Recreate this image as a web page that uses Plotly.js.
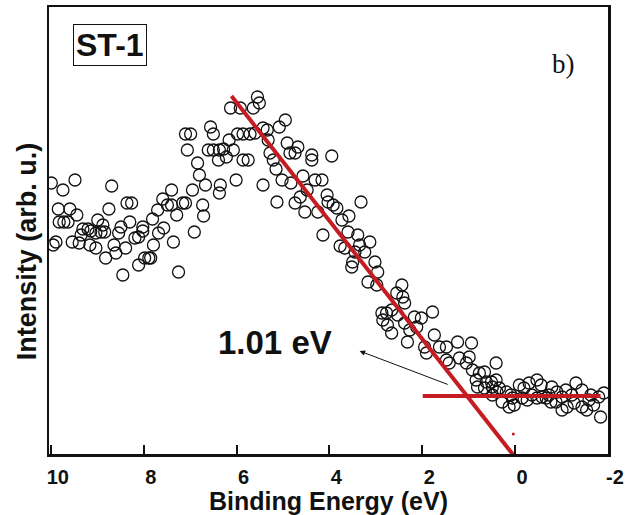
<!DOCTYPE html>
<html>
<head>
<meta charset="utf-8">
<script src="https://cdn.plot.ly/plotly-3.0.1.min.js"></script>
<style>html,body{margin:0;padding:0;background:#fff;}#chart{width:644px;height:515px;}</style>
</head>
<body>
<div id="chart"></div>
<script>
// Binding energy (eV) of each measured point
const energy = [
9.99,9.95,9.89,9.84,9.82,9.74,9.72,9.63,9.59,9.54,9.48,9.44,9.39,9.35,9.31,9.20,9.16,9.14,9.03,9.03,
8.99,8.92,8.88,8.84,8.82,8.75,8.69,8.64,8.60,8.54,8.49,8.45,8.39,8.36,8.30,8.26,8.19,8.11,8.11,8.02,
8.02,7.98,7.89,7.85,7.81,7.79,7.70,7.68,7.59,7.57,7.49,7.40,7.40,7.36,7.29,7.25,7.16,7.10,6.95,
7.10,6.99,7.06,6.84,6.80,6.91,6.73,6.71,6.67,6.61,6.56,6.50,6.50,6.39,6.37,6.37,6.35,6.28,6.22,6.16,
6.07,6.01,5.98,5.86,5.86,5.75,6.13,5.92,5.71,5.64,5.60,5.55,5.51,
5.43,5.34,5.32,5.43,5.28,5.21,5.15,5.08,4.95,5.02,4.91,4.85,4.83,4.74,4.68,5.13,4.63,4.74,4.53,4.57,
4.48,4.38,4.38,3.95,4.31,4.16,4.25,4.05,4.03,3.92,3.84,4.14,
3.73,3.58,3.32,3.60,3.39,3.13,3.35,3.77,3.67,3.45,3.24,3.50,3.52,3.02,2.96,3.17,2.98,2.44,2.55,2.42,
2.38,2.87,2.77,2.66,2.85,2.75,2.66,2.38,2.27,2.17,2.12,2.32,2.53,
2.02,1.78,1.74,1.95,1.91,1.63,1.48,1.48,1.42,1.24,1.20,
0.94,0.99,1.05,0.41,0.92,0.77,0.66,0.84,0.62,0.51,0.41,0.81,0.66,0.49,0.34,0.39,0.49,
0.28,0.19,0.13,0.09,0.06,-0.09,-0.15,-0.19,-0.26,-0.30,-0.47,-0.47,-0.56,-0.58,-0.67,-0.73,-0.77,-0.79,
-0.88,-0.90,-1.01,-1.01,-1.09,-1.12,-1.27,-1.31,-1.44,-1.44,-1.54,-1.63,-1.69,-1.80,-1.84,-1.91,
-1.22,-0.36,0.02,-1.59
];
// Intensity (arb. u.) of each measured point
const intensity = [
272,210,213,246,233,265,233,233,246,213,275,240,212,220,226,226,210,224,222,207,
235,223,230,223,197,246,269,210,202,222,228,180,207,252,233,252,217,218,190,224,
228,197,197,197,236,210,245,222,256,227,250,250,265,213,240,183,252,252,265,
321,321,305,292,280,223,250,239,270,305,328,321,305,295,305,262,270,306,298,315,
305,275,321,321,295,295,347,347,321,347,322,358,352,
327,325,315,270,302,295,286,328,335,275,312,302,272,302,308,253,258,252,243,279,
265,300,295,299,275,275,243,260,253,250,247,220,
235,239,253,223,220,213,210,209,207,203,203,193,188,193,183,173,170,170,162,158,
152,142,142,145,135,130,122,132,125,138,128,113,140,
137,143,120,108,102,108,108,95,92,113,97,
112,98,92,92,85,82,83,75,73,73,75,68,67,68,67,63,60,
53,63,48,60,57,70,57,67,55,72,75,57,70,58,57,60,53,68,
53,63,58,45,65,48,52,72,65,48,45,60,50,58,38,62,
60,60,50,55
];
// Linear fit of the leading edge and the background baseline
const edgeFitE = [6.11, 0.04];
const edgeFitI = [359, 0];
const baseFitE = [1.99, -1.84];
const baseFitI = [59, 59];
const markDotE = [0.04];
const markDotI = [21];
// Onset marked on the chart
const onsetLabel = '1.01 eV';
const arrowHeadE = 3.35, arrowHeadI = 104, arrowTailE = 1.42, arrowTailI = 70;
const labelE = 5.17, labelI = 113;
// Axis ticks
const tickVals = [10, 8, 6, 4, 2, 0, -2];
const tickText = ['10', '8', '6', '4', '2', '0', '-2'];
const xTitle = 'Binding Energy (eV)';
const yTitle = 'Intensity (arb. u.)';

const red = 'rgb(196,28,34)';
const traces = [
  {x: energy, y: intensity, type: 'scatter', mode: 'markers',
   marker: {symbol: 'circle-open', size: 12, color: '#111', line: {width: 1.3, color: '#111'}},
   hoverinfo: 'x+y'},
  {x: edgeFitE, y: edgeFitI, type: 'scatter', mode: 'lines', line: {color: red, width: 4}},
  {x: baseFitE, y: baseFitI, type: 'scatter', mode: 'lines', line: {color: red, width: 4}},
  {x: markDotE, y: markDotI, type: 'scatter', mode: 'markers', marker: {color: red, size: 3}}
];

const sans = 'Liberation Sans, Arial, sans-serif';
const axisFont = {family: sans, color: '#111', weight: 'bold'};
const layout = {
  width: 644, height: 515,
  margin: {l: 49, r: 36, t: 7, b: 61},
  paper_bgcolor: '#fff', plot_bgcolor: '#fff',
  showlegend: false,
  xaxis: {
    range: [10.04, -2.0],
    tickmode: 'array', tickvals: tickVals, ticktext: tickText,
    ticks: 'inside', ticklen: 9, tickwidth: 2, tickcolor: '#111',
    showline: true, linewidth: 2.5, linecolor: '#111', mirror: true,
    showgrid: false, zeroline: false,
    tickfont: Object.assign({size: 20}, axisFont),
    ticklabelshift: -7, ticklabelstandoff: 3,
    title: {text: xTitle, font: Object.assign({size: 25}, axisFont), standoff: 6}
  },
  yaxis: {
    range: [1, 448],
    showticklabels: false, ticks: '',
    showline: true, linewidth: 2.5, linecolor: '#111', mirror: true,
    showgrid: false, zeroline: false
  },
  annotations: [
    {x: -0.039, y: 0.454, xref: 'paper', yref: 'paper', text: yTitle, textangle: -90,
     showarrow: false, xanchor: 'center', yanchor: 'middle',
     font: Object.assign({size: 27}, axisFont)},
    {x: labelE, y: labelI, xref: 'x', yref: 'y', text: onsetLabel, showarrow: false,
     xanchor: 'center', yanchor: 'middle',
     font: {family: sans, size: 33, color: '#111', weight: 'bold'}},
    {x: arrowHeadE, y: arrowHeadI, ax: arrowTailE, ay: arrowTailI, axref: 'x', ayref: 'y',
     xref: 'x', yref: 'y', text: '', showarrow: true, arrowhead: 2, arrowsize: 1.1,
     arrowwidth: 1, arrowcolor: '#111'},
    {x: 0.109, y: 0.915, xref: 'paper', yref: 'paper', text: 'ST-1', showarrow: false,
     xanchor: 'center', yanchor: 'middle',
     bordercolor: '#111', borderwidth: 1, borderpad: 2, bgcolor: '#fff',
     font: {family: sans, size: 32, color: '#111', weight: 'bold'}},
    {x: 0.921, y: 0.872, xref: 'paper', yref: 'paper', text: 'b)', showarrow: false,
     xanchor: 'center', yanchor: 'middle',
     font: {family: 'Liberation Serif, Times New Roman, serif', size: 27, color: '#111'}}
  ]
};

Plotly.newPlot('chart', traces, layout, {staticPlot: true, displayModeBar: false});
</script>
</body>
</html>
